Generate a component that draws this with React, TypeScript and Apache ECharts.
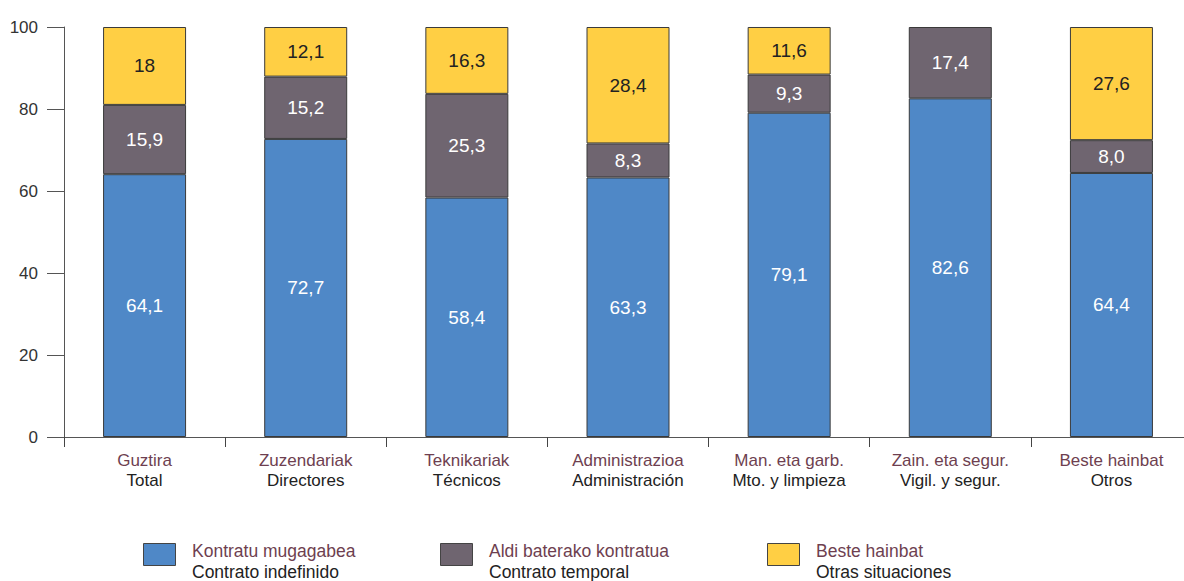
import React, { useEffect, useRef } from "react";
import * as echarts from "echarts";

const categoriesEu = ["Guztira", "Zuzendariak", "Teknikariak", "Administrazioa", "Man. eta garb.", "Zain. eta segur.", "Beste hainbat"];
const categoriesEs = ["Total", "Directores", "Técnicos", "Administración", "Mto. y limpieza", "Vigil. y segur.", "Otros"];

const seriesNamesEu = ["Kontratu mugagabea", "Aldi baterako kontratua", "Beste hainbat"];
const seriesNamesEs = ["Contrato indefinido", "Contrato temporal", "Otras situaciones"];

// bar heights as drawn
const indefinido = [64.1, 72.7, 58.4, 63.3, 79.1, 82.6, 64.4];
const temporal = [16.9, 15.2, 25.3, 8.3, 9.3, 17.4, 8.0];
const otras = [19.0, 12.1, 16.3, 28.4, 11.6, null, 27.6];

// printed labels
const indefinidoLabels = ["64,1", "72,7", "58,4", "63,3", "79,1", "82,6", "64,4"];
const temporalLabels = ["15,9", "15,2", "25,3", "8,3", "9,3", "17,4", "8,0"];
const otrasLabels = ["18", "12,1", "16,3", "28,4", "11,6", "", "27,6"];

const yTicks = [0, 20, 40, 60, 80, 100];

const colors = ["#4F88C7", "#6F6570", "#FFCF44"];
const FONT = "Liberation Sans, Arial, sans-serif";
const EU_COLOR = "#6E3F50";

export default function App() {
  const ref = useRef<HTMLDivElement>(null);
  useEffect(() => {
    const chart = echarts.init(ref.current!, null, { renderer: "svg" });
    const mk = (name: string, data: (number | null)[], labels: string[], color: string, labelColor: string) => ({
      name,
      type: "bar",
      stack: "total",
      barWidth: 83,
      data: data.map((v) => (v === null ? "-" : v)),
      itemStyle: { color, borderColor: "#3a3a3a", borderWidth: 1 },
      label: {
        show: true,
        position: "inside",
        color: labelColor,
        fontSize: 19,
        fontFamily: FONT,
        formatter: (p: any) => labels[p.dataIndex],
      },
    });
    const legendX = [143, 440, 767];
    const legendGraphics: any[] = [];
    seriesNamesEu.forEach((n, i) => {
      legendGraphics.push({
        type: "rect",
        left: legendX[i],
        top: 543,
        shape: { width: 32, height: 22 },
        style: { fill: colors[i], stroke: "#444", lineWidth: 1 },
      });
      legendGraphics.push({
        type: "text",
        left: legendX[i] + 49,
        top: 542,
        style: { text: n, fill: EU_COLOR, fontSize: 17.5, fontFamily: FONT },
      });
      legendGraphics.push({
        type: "text",
        left: legendX[i] + 49,
        top: 563,
        style: { text: seriesNamesEs[i], fill: "#222", fontSize: 17.5, fontFamily: FONT },
      });
    });
    chart.setOption({
      animation: false,
      textStyle: { fontFamily: FONT },
      grid: { left: 64, top: 27, bottom: 144, right: -8, containLabel: false, outerBoundsMode: "none" },
      xAxis: {
        type: "category",
        data: categoriesEu.map((c, i) => c + "\n" + categoriesEs[i]),
        axisLine: { lineStyle: { color: "#555", width: 1 } },
        axisTick: { show: true, length: 10, lineStyle: { color: "#444" } },
        axisLabel: {
          margin: 13,
          interval: 0,
          formatter: (v: string) => {
            const [a, b] = v.split("\n");
            return `{a|${a}}\n{b|${b}}`;
          },
          rich: {
            a: { color: EU_COLOR, fontSize: 17, lineHeight: 20, fontFamily: FONT },
            b: { color: "#222", fontSize: 17, lineHeight: 20, fontFamily: FONT },
          },
        },
      },
      yAxis: {
        type: "value",
        min: 0,
        max: 100,
        interval: 20,
        axisLine: { show: true, lineStyle: { color: "#555", width: 1 } },
        axisTick: { show: true, length: 17, lineStyle: { color: "#555" } },
        splitLine: { show: false },
        axisLabel: {
          margin: 26,
          color: "#333",
          fontSize: 17,
          fontFamily: FONT,
          formatter: (v: number) => (yTicks.includes(v) ? String(v) : ""),
        },
      },
      series: [
        mk(seriesNamesEu[0], indefinido, indefinidoLabels, colors[0], "#fff"),
        mk(seriesNamesEu[1], temporal, temporalLabels, colors[1], "#fff"),
        mk(seriesNamesEu[2], otras, otrasLabels, colors[2], "#222"),
      ],
      graphic: legendGraphics,
    });
    return () => chart.dispose();
  }, []);
  return <div ref={ref} style={{ width: 1184, height: 581, position: "absolute", left: 0, top: 0 }} />;
}
